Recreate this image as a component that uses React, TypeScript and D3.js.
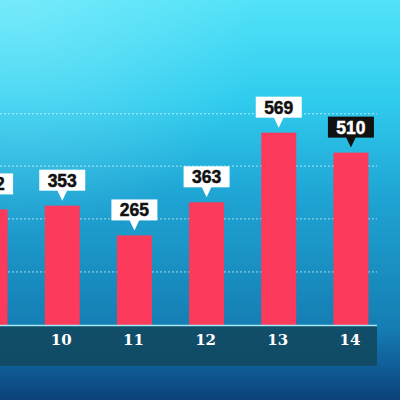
import React from "react";
import * as d3 from "d3";

const categories = ["9", "10", "11", "12", "13", "14"];
const values = [342, 353, 265, 363, 569, 510];
const highlighted = ["14"];
const gridValues = [157, 314, 470, 625];

const W = 400;
const H = 400;
const baseY = 325;
const axisRight = 377;

export default function App() {
  const x = d3
    .scaleBand<string>()
    .domain(categories)
    .range([-46, 387])
    .paddingInner(0.515)
    .paddingOuter(0.2575);
  const y = d3.scaleLinear().domain([0, 700]).range([baseY, baseY - 700 * 0.338]);

  const boxW = 46;
  const boxH = 21;

  return (
    <div style={{ position: "fixed", left: 0, top: 0 }}>
      <svg width={W} height={H} style={{ display: "block" }}>
        <defs>
          <linearGradient id="bg" x1="0" y1="0" x2="0" y2="1">
            <stop offset="0" stopColor="#52e2f8" />
            <stop offset="0.25" stopColor="#30ccee" />
            <stop offset="0.5" stopColor="#1ea3d3" />
            <stop offset="0.65" stopColor="#1a92c3" />
            <stop offset="0.82" stopColor="#157db3" />
            <stop offset="0.92" stopColor="#0f5c96" />
            <stop offset="1" stopColor="#0b4178" />
          </linearGradient>
          <radialGradient id="hl" cx="0.05" cy="0.0" r="0.6">
            <stop offset="0" stopColor="#9ff4ff" stopOpacity="0.45" />
            <stop offset="1" stopColor="#9ff4ff" stopOpacity="0" />
          </radialGradient>
        </defs>
        <rect x={0} y={0} width={W} height={H} fill="url(#bg)" />
        <rect x={0} y={0} width={W} height={H} fill="url(#hl)" />

        {gridValues.map((g) => (
          <line
            key={g}
            x1={0}
            x2={axisRight}
            y1={y(g)}
            y2={y(g)}
            stroke="#d8f6ff"
            strokeOpacity={0.75}
            strokeWidth={1}
            strokeDasharray="2,2"
          />
        ))}

        <rect x={0} y={baseY + 1} width={axisRight} height={40} fill="#114a62" fillOpacity={0.92} />

        {categories.map((c, i) => {
          const bx = x(c) as number;
          const top = y(values[i]);
          return (
            <rect
              key={c}
              x={bx}
              y={top}
              width={x.bandwidth()}
              height={baseY - top}
              fill="#fc3a5b"
            />
          );
        })}

        <line x1={0} x2={axisRight} y1={baseY + 0.5} y2={baseY + 0.5} stroke="#a5ebf7" strokeWidth={1.5} />

        {categories.map((c) => {
          const cx = (x(c) as number) + x.bandwidth() / 2;
          return (
            <text
              key={c}
              x={cx - 1}
              y={345}
              textAnchor="middle"
              fill="#ffffff"
              fontFamily="'DejaVu Serif', serif"
              fontWeight="bold"
              fontSize={15}
            >
              {c}
            </text>
          );
        })}

        {categories.map((c, i) => {
          const cx = (x(c) as number) + x.bandwidth() / 2;
          const top = y(values[i]);
          const boxBottom = top - 15;
          const tip = top - 5;
          const dark = highlighted.includes(c);
          const fill = dark ? "#111111" : "#ffffff";
          const textFill = dark ? "#ffffff" : "#111111";
          return (
            <g key={c}>
              <rect x={cx - boxW / 2} y={boxBottom - boxH} width={boxW} height={boxH} fill={fill} />
              <path
                d={`M${cx - 5},${boxBottom - 0.5} L${cx + 5},${boxBottom - 0.5} L${cx},${tip} Z`}
                fill={fill}
              />
              <text
                x={cx}
                y={boxBottom - 4}
                textAnchor="middle"
                fill={textFill}
                stroke={textFill}
                strokeWidth={0.5}
                fontFamily="'Liberation Sans', Arial, sans-serif"
                fontWeight="bold"
                fontSize={17.5}
              >
                {values[i]}
              </text>
            </g>
          );
        })}
      </svg>
    </div>
  );
}
